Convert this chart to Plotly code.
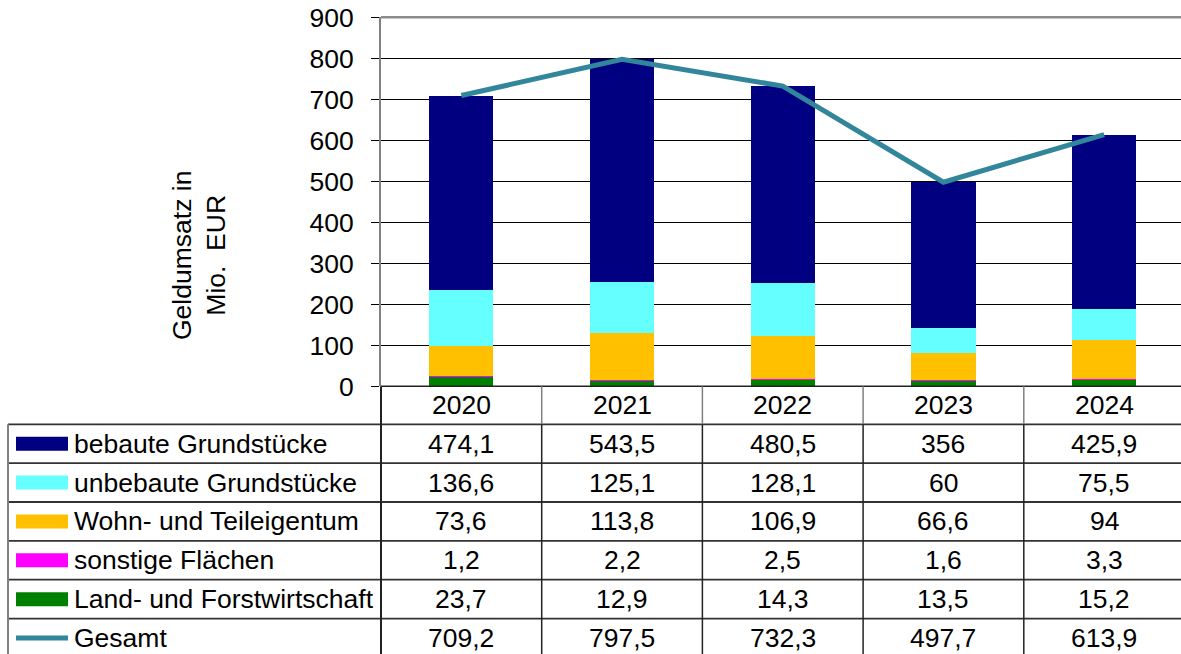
import plotly.graph_objects as go

# ---------------- data ----------------
years = ["2020", "2021", "2022", "2023", "2024"]
bebaute = [474.1, 543.5, 480.5, 356, 425.9]
unbebaute = [136.6, 125.1, 128.1, 60, 75.5]
wohn = [73.6, 113.8, 106.9, 66.6, 94]
sonstige = [1.2, 2.2, 2.5, 1.6, 3.3]
land = [23.7, 12.9, 14.3, 13.5, 15.2]
gesamt = [709.2, 797.5, 732.3, 497.7, 613.9]

series_names = ["bebaute Grundstücke", "unbebaute Grundstücke", "Wohn- und Teileigentum",
                "sonstige Flächen", "Land- und Forstwirtschaft", "Gesamt"]
series_values = [bebaute, unbebaute, wohn, sonstige, land, gesamt]
series_colors = ["#000080", "#66FFFF", "#FFC000", "#FF00FF", "#008000", "#31869B"]
y_title = "Geldumsatz in<br>Mio.&nbsp; EUR"

# ---------------- layout constants (pixels) ----------------
W, H = 1181, 654
PLOT_L = 381.0
PLOT_T = 17.3
AXIS_Y = 386.3
COL_W = 160.7
HEADER_B = 424.3
ROW_H = 38.85
TABLE_L = 8.0
FONT = "Liberation Sans, Arial, sans-serif"
FS = 26.5


def px(x):
    return x / W


def py(y):
    return 1 - y / H


def fmt(v):
    if float(v).is_integer():
        return str(int(v))
    return f"{v:.1f}".replace(".", ",")


fig = go.Figure()

# stacked bars, bottom to top
for idx in [4, 3, 2, 1, 0]:
    fig.add_trace(go.Bar(
        x=years, y=series_values[idx], name=series_names[idx],
        marker=dict(color=series_colors[idx], line=dict(width=0)),
        width=0.4, hoverinfo="skip",
    ))

fig.add_trace(go.Scatter(
    x=years, y=gesamt, mode="lines", name="Gesamt",
    line=dict(color=series_colors[5], width=5), hoverinfo="skip",
))

range_span = (W - PLOT_L) / COL_W

fig.update_layout(
    width=W, height=H, autosize=False,
    margin=dict(l=0, r=0, t=0, b=0, pad=0, autoexpand=False),
    paper_bgcolor="white", plot_bgcolor="white",
    barmode="stack", bargap=0.6, showlegend=False,
    font=dict(family=FONT, size=FS, color="black"),
    xaxis=dict(domain=[px(PLOT_L), 1], range=[-0.5, -0.5 + range_span],
               type="category", showticklabels=False, showgrid=False,
               showline=False, zeroline=False, ticks="", automargin=False),
    yaxis=dict(domain=[py(AXIS_Y), py(PLOT_T)], range=[0, 900], dtick=100,
               tick0=0, showgrid=True, gridcolor="black", gridwidth=1,
               showline=True, linecolor="#808080", linewidth=2,
               ticks="outside", ticklen=8, tickcolor="black", tickwidth=1,
               tickfont=dict(size=FS, family=FONT, color="black"),
               ticklabelstandoff=12, zeroline=False, automargin=False),
)

shapes = []
annotations = []

# top border of plot area
shapes.append(dict(type="line", xref="paper", yref="paper",
                   x0=px(PLOT_L), x1=1, y0=py(PLOT_T), y1=py(PLOT_T),
                   line=dict(color="#8c8c8c", width=2.5)))

n_rows = len(series_names)

# horizontal lines
shapes.append(dict(type="line", xref="paper", yref="paper",
                   x0=px(PLOT_L), x1=1, y0=py(AXIS_Y), y1=py(AXIS_Y),
                   line=dict(color="#222222", width=1.5)))
for k in range(n_rows):
    yk = HEADER_B + k * ROW_H
    shapes.append(dict(type="line", xref="paper", yref="paper",
                       x0=px(TABLE_L), x1=1, y0=py(yk), y1=py(yk),
                       line=dict(color="#333333", width=1.8)))

# vertical lines
shapes.append(dict(type="line", xref="paper", yref="paper",
                   x0=px(PLOT_L), x1=px(PLOT_L), y0=py(AXIS_Y), y1=0,
                   line=dict(color="#222222", width=2)))
shapes.append(dict(type="line", xref="paper", yref="paper",
                   x0=px(TABLE_L), x1=px(TABLE_L), y0=py(HEADER_B), y1=0,
                   line=dict(color="#808080", width=2)))
for i in range(1, len(years)):
    xi = PLOT_L + i * COL_W
    shapes.append(dict(type="line", xref="paper", yref="paper",
                       x0=px(xi), x1=px(xi), y0=py(AXIS_Y), y1=py(HEADER_B),
                       line=dict(color="#808080", width=1.5)))
    shapes.append(dict(type="line", xref="paper", yref="paper",
                       x0=px(xi), x1=px(xi), y0=py(HEADER_B), y1=0,
                       line=dict(color="#222222", width=1.5)))

# header year labels
for i, yr in enumerate(years):
    annotations.append(dict(xref="paper", yref="paper",
                            x=px(PLOT_L + (i + 0.5) * COL_W),
                            y=py((AXIS_Y + HEADER_B) / 2),
                            text=yr, showarrow=False, xanchor="center", yanchor="middle",
                            font=dict(size=FS, family=FONT, color="black")))

# table rows
for k, (name, vals, col) in enumerate(zip(series_names, series_values, series_colors)):
    yc = HEADER_B + (k + 0.5) * ROW_H
    if name == "Gesamt":
        shapes.append(dict(type="line", xref="paper", yref="paper",
                           x0=px(16), x1=px(68), y0=py(yc), y1=py(yc),
                           line=dict(color=col, width=5)))
    else:
        shapes.append(dict(type="rect", xref="paper", yref="paper",
                           x0=px(16), x1=px(68), y0=py(yc - 7), y1=py(yc + 7),
                           fillcolor=col, line=dict(width=0)))
    annotations.append(dict(xref="paper", yref="paper", x=px(72), y=py(yc),
                            text=name, showarrow=False, xanchor="left", yanchor="middle",
                            font=dict(size=FS, family=FONT, color="black")))
    for i, v in enumerate(vals):
        annotations.append(dict(xref="paper", yref="paper",
                                x=px(PLOT_L + (i + 0.5) * COL_W), y=py(yc),
                                text=fmt(v), showarrow=False,
                                xanchor="center", yanchor="middle",
                                font=dict(size=FS, family=FONT, color="black")))

# y axis title
annotations.append(dict(xref="paper", yref="paper", x=px(199), y=py(256),
                        text=y_title, textangle=-90, showarrow=False,
                        xanchor="center", yanchor="middle",
                        font=dict(size=FS, family=FONT, color="black")))

fig.update_layout(shapes=shapes, annotations=annotations)

fig.write_html("out.html", config={"displayModeBar": False, "staticPlot": True},
               post_script="document.body.style.margin='0';document.body.style.overflow='hidden';")
